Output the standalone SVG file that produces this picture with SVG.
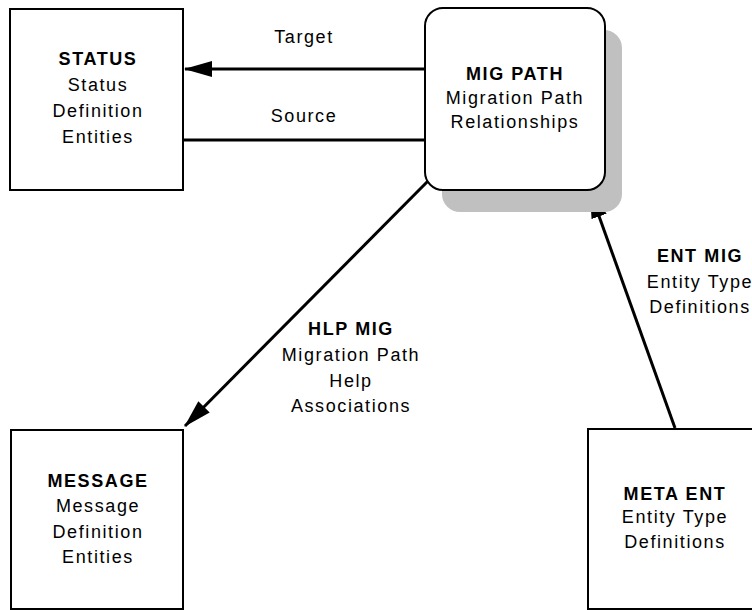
<svg xmlns="http://www.w3.org/2000/svg" width="752" height="610" viewBox="0 0 752 610">
  <style>
    .box { fill: #ffffff; stroke: #000000; stroke-width: 2; }
    .shadow { fill: #c0c0c0; stroke: none; }
    .conn { stroke: #000000; stroke-width: 3; fill: none; }
    text { font-family: "Liberation Sans", Arial, sans-serif; font-size: 18px; fill: #000000; text-anchor: middle; letter-spacing: 1.6px; }
    .b { font-weight: bold; }
  </style>
  <defs>
    <marker id="arrow" markerUnits="userSpaceOnUse" markerWidth="28" markerHeight="18" refX="27" refY="9" orient="auto">
      <path d="M0,1 L28,9 L0,17 z" fill="#000000"/>
    </marker>
  </defs>

  <rect width="752" height="610" fill="#ffffff"/>

  <!-- Connectors -->
  <g id="connectors">
    <line class="conn" x1="425" y1="69" x2="185" y2="69" marker-end="url(#arrow)"/>
    <line class="conn" x1="183" y1="140" x2="425" y2="140"/>
    <line class="conn" x1="429" y1="180" x2="185" y2="426" marker-end="url(#arrow)"/>
    <line class="conn" x1="675" y1="428" x2="590" y2="191" marker-end="url(#arrow)"/>
    <text x="304" y="43">Target</text>
    <text x="304" y="122">Source</text>
    <text class="b" x="351" y="335">HLP MIG</text>
    <text x="351" y="361">Migration Path</text>
    <text x="351" y="387">Help</text>
    <text x="351" y="412">Associations</text>
    <text class="b" x="700" y="262">ENT MIG</text>
    <text x="700" y="288">Entity Type</text>
    <text x="700" y="313">Definitions</text>
  </g>

  <g id="status">
    <rect class="box" x="10" y="9" width="173" height="181"/>
    <text class="b" x="98" y="65">STATUS</text>
    <text x="98" y="91">Status</text>
    <text x="98" y="117">Definition</text>
    <text x="98" y="143">Entities</text>
  </g>

  <g id="mig-path">
    <rect class="shadow" x="442" y="30" width="180" height="182" rx="18" ry="18"/>
    <rect class="box" x="425" y="8" width="180" height="182" rx="18" ry="18"/>
    <text class="b" x="515" y="80">MIG PATH</text>
    <text x="515" y="104">Migration Path</text>
    <text x="515" y="128">Relationships</text>
  </g>

  <g id="message">
    <rect class="box" x="11" y="430" width="172" height="179"/>
    <text class="b" x="98" y="487">MESSAGE</text>
    <text x="98" y="512">Message</text>
    <text x="98" y="538">Definition</text>
    <text x="98" y="563">Entities</text>
  </g>

  <g id="meta-ent">
    <rect class="box" x="588" y="429" width="170" height="180"/>
    <text class="b" x="675" y="500">META ENT</text>
    <text x="675" y="523">Entity Type</text>
    <text x="675" y="548">Definitions</text>
  </g>
</svg>
